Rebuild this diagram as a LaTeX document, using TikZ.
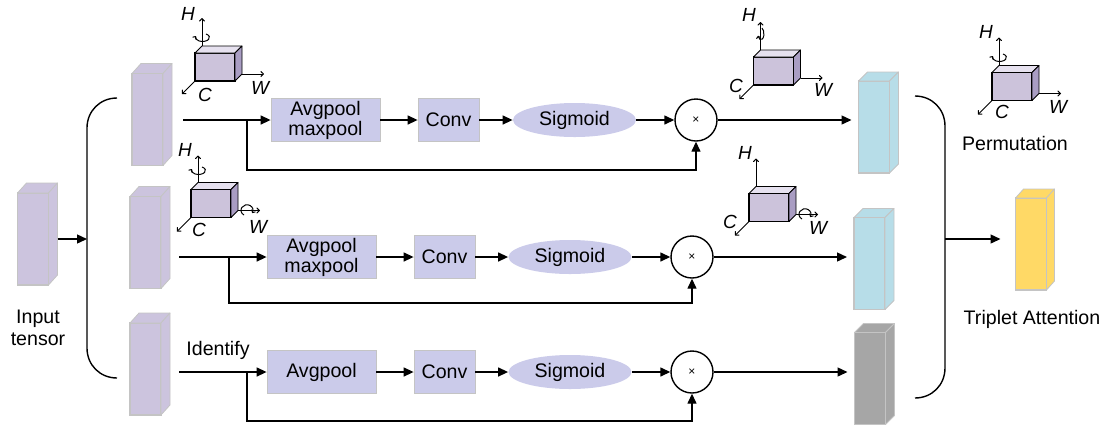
\documentclass[tikz,border=0pt]{standalone}
\usepackage{fontspec}
\setmainfont{Liberation Sans}
\usetikzlibrary{arrows.meta}
\usetikzlibrary{shapes.geometric}
\definecolor{opblue}{HTML}{CBCBEA}
\definecolor{edgegray}{HTML}{C4C4C4}
\definecolor{lavender}{HTML}{CCC4DE}
\definecolor{cubefront}{HTML}{CCC3DB}
\definecolor{cubetop}{HTML}{E6E1EF}
\definecolor{cubeside}{HTML}{A99DC3}
\definecolor{cyanbox}{HTML}{B7DDE8}
\definecolor{graybox}{HTML}{A6A6A6}
\definecolor{yellowbox}{HTML}{FFD966}
\tikzset{flow/.style = {line width = 0.7pt, -{Triangle[length = 5pt, width = 4.5pt]}}}
\tikzset{axis/.style = {line width = 0.5pt, -{To[length = 1.8pt, width = 3pt]}}}
\tikzset{rot/.style = {line width = 0.5pt, -{To[length = 1.5pt, width = 2.5pt]}}}
\tikzset{tensor/.style = {draw = edgegray, line width = 0.6pt, inner sep = 0, outer sep = 0, minimum width = 15.5pt, minimum height = 46pt}}
\tikzset{cube/.style = {draw, line width = 0.7pt, fill = cubefront, inner sep = 0, outer sep = 0, minimum width = 20pt, minimum height = 14pt}}
\tikzset{pool/.style = {draw = edgegray, fill = opblue, minimum width = 54.5pt, minimum height = 21.5pt, inner sep = 0, align = center, font = \fontsize{9.8}{10}\selectfont}}
\tikzset{conv/.style = {pool, minimum width = 30.5pt}}
\tikzset{sig/.style = {ellipse, fill = opblue, minimum width = 61.5pt, minimum height = 17pt, inner sep = 0}}
\tikzset{mult/.style = {circle, draw, line width = 0.7pt, minimum size = 21pt, inner sep = 0, font = \fontsize{6}{6}\selectfont}}
\tikzset{axlab/.style = {inner sep = 0, font = \fontsize{9.5}{10}\selectfont\itshape}}
\tikzset{lab/.style = {inner sep = 0, align = center}}
\newcommand\prism[6]{%
    \filldraw [draw = #6, fill = #4, line join = round] (#1.north west) -- ++(#2, #3) -- ([shift = {(#2, #3)}]#1.north east) -- (#1.north east) -- cycle;
    \filldraw [draw = #6, fill = #5, line join = round] (#1.north east) -- ([shift = {(#2, #3)}]#1.north east) -- ([shift = {(#2, #3)}]#1.south east) -- (#1.south east) -- cycle;
}

\begin{document}
\begin{tikzpicture}[x = 0.5pt, y = -0.5pt, font = \fontsize{9.8}{11}\selectfont]
    \useasboundingbox (0, 0) rectangle (1105, 425);

    \node [tensor, fill = lavender] (in) at (33, 239) {};
    \node [tensor, fill = lavender] (t1) at (147.5, 119.5) {};
    \node [tensor, fill = lavender] (t2) at (145.5, 242.5) {};
    \node [tensor, fill = lavender] (t3) at (145.5, 369) {};
    \node [tensor, fill = cyanbox] (o1) at (874, 127) {};
    \node [tensor, fill = cyanbox] (o2) at (869.5, 263.5) {};
    \node [tensor, fill = graybox] (o3) at (870, 378.5) {};
    \node [tensor, fill = yellowbox] (ta) at (1031, 244) {};
    \prism{in}{9}{-10}{lavender}{lavender}{edgegray}
    \prism{t1}{9}{-10}{lavender}{lavender}{edgegray}
    \prism{t2}{9}{-10}{lavender}{lavender}{edgegray}
    \prism{t3}{9}{-10}{lavender}{lavender}{edgegray}
    \prism{o1}{9}{-9}{cyanbox}{cyanbox}{edgegray}
    \prism{o2}{9}{-9}{cyanbox}{cyanbox}{edgegray}
    \prism{o3}{9}{-9}{graybox}{graybox}{edgegray}
    \prism{ta}{8}{-9}{yellowbox}{yellowbox}{edgegray}

    \node [lab] (inlab) at (38, 328) {Input\\tensor};
    \node [lab] (perm) at (1015, 143) {Permutation};
    \node [lab] (talab) at (1032, 319) {Triplet Attention};
    \node [lab] (ident) at (218, 350) {Identify};

    \node [cube] (k1) at (215, 67) {};
    \node [cube] (k2) at (211, 203.5) {};
    \node [cube] (k3) at (773.5, 71) {};
    \node [cube] (k4) at (769, 207.5) {};
    \node [cube] (k5) at (1012, 86.5) {};
    \prism{k1}{7}{-7}{cubetop}{cubeside}{black}
    \prism{k2}{7}{-7}{cubetop}{cubeside}{black}
    \prism{k3}{7}{-7}{cubetop}{cubeside}{black}
    \prism{k4}{7}{-7}{cubetop}{cubeside}{black}
    \prism{k5}{7}{-7}{cubetop}{cubeside}{black}

    \draw [axis] ([shift = {(7, -7)}]k1.north west) -- ++(0, -28);
    \draw [axis] ([shift = {(7, -7)}]k1.south east) -- ++(22, 0);
    \draw [axis] (k1.south west) -- ++(-13, 13);
    \node [axlab] (k1H) at (188, 14) {H};
    \node [axlab] (k1W) at (260, 88) {W};
    \node [axlab] (k1C) at (205, 95) {C};
    \draw [rot] (206, 34) arc [start angle = -60, end angle = 200, x radius = 7, y radius = 4];

    \draw [axis] ([shift = {(7, -7)}]k2.north west) -- ++(0, -27);
    \draw [axis] ([shift = {(7, -7)}]k2.south east) -- ++(22, 0);
    \draw [axis] (k2.south west) -- ++(-14, 14);
    \node [axlab] (k2H) at (185, 150) {H};
    \node [axlab] (k2W) at (258, 227) {W};
    \node [axlab] (k2C) at (199, 230) {C};
    \draw [rot] (202, 167) arc [start angle = -60, end angle = 200, x radius = 7, y radius = 4];
    \draw [rot] (244, 215) arc [start angle = 120, end angle = 390, x radius = 6, y radius = 5.5];

    \draw [axis] ([shift = {(7, -7)}]k3.north west) -- ++(0, -28);
    \draw [axis] ([shift = {(7, -7)}]k3.south east) -- ++(22, 0);
    \draw [axis] (k3.south west) -- ++(-14, 14);
    \node [axlab] (k3H) at (749, 15) {H};
    \node [axlab] (k3W) at (823, 90) {W};
    \node [axlab] (k3C) at (736, 86) {C};
    \draw [rot] (762, 28) arc [start angle = -70, end angle = 160, x radius = 3, y radius = 6];

    \draw [axis] ([shift = {(7, -7)}]k4.north west) -- ++(0, -28);
    \draw [axis] ([shift = {(7, -7)}]k4.south east) -- ++(22, 0);
    \draw [axis] (k4.south west) -- ++(-14, 14);
    \node [axlab] (k4H) at (745, 153) {H};
    \node [axlab] (k4W) at (818, 228) {W};
    \node [axlab] (k4C) at (730, 222) {C};
    \draw [rot] (802, 219) arc [start angle = 120, end angle = 390, x radius = 6, y radius = 5.5];

    \draw [axis] ([shift = {(7, -7)}]k5.north west) -- ++(0, -28);
    \draw [axis] ([shift = {(7, -7)}]k5.south east) -- ++(22, 0);
    \draw [axis] (k5.south west) -- ++(-14, 14);
    \node [axlab] (k5H) at (986, 32) {H};
    \node [axlab] (k5W) at (1058, 107) {W};
    \node [axlab] (k5C) at (1002, 112) {C};
    \draw [rot] (1003, 54) arc [start angle = -60, end angle = 200, x radius = 7, y radius = 4];

    \node [pool] (p1) at (325.5, 120) {Avgpool\\maxpool};
    \node [conv] (v1) at (448.5, 120) {Conv};
    \node [sig] (s1) at (574.5, 120) {Sigmoid};
    \node [mult] (m1) at (696, 120) {×};
    \node [pool] (p2) at (321.5, 257) {Avgpool\\maxpool};
    \node [conv] (v2) at (444.5, 257) {Conv};
    \node [sig] (s2) at (570, 257) {Sigmoid};
    \node [mult] (m2) at (692, 257) {×};
    \node [pool] (p3) at (321.5, 372) {Avgpool};
    \node [conv] (v3) at (444.5, 372) {Conv};
    \node [sig] (s3) at (570, 372) {Sigmoid};
    \node [mult] (m3) at (692, 372) {×};

    \coordinate (a1) at (183, 120);
    \coordinate (b1) at (247, 120);
    \coordinate (f1) at (247, 170);
    \coordinate (a2) at (179, 257);
    \coordinate (b2) at (229, 257);
    \coordinate (f2) at (229, 303);
    \coordinate (a3) at (179, 372);
    \coordinate (b3) at (247, 372);
    \coordinate (f3) at (247, 421);

    \draw [flow] (a1) -- (p1);
    \draw [flow] (p1) -- (v1);
    \draw [flow] (v1) -- (s1);
    \draw [flow] (s1) -- (m1);
    \draw [flow] (b1) -- (f1) -| (m1);
    \draw [flow, shorten >= 3.5pt] (m1) -- (m1 -| o1.west);

    \draw [flow] (a2) -- (p2);
    \draw [flow] (p2) -- (v2);
    \draw [flow] (v2) -- (s2);
    \draw [flow] (s2) -- (m2);
    \draw [flow] (b2) -- (f2) -| (m2);
    \draw [flow, shorten >= 3.5pt] (m2) -- (m2 -| o2.west);

    \draw [flow] (a3) -- (p3);
    \draw [flow] (p3) -- (v3);
    \draw [flow] (v3) -- (s3);
    \draw [flow] (s3) -- (m3);
    \draw [flow] (b3) -- (f3) -| (m3);
    \draw [flow, shorten >= 3.5pt] (m3) -- (m3 -| o3.west);

    \draw [line width = 0.7pt] (117, 98) .. controls (100, 98) and (87, 111) .. (87, 128) -- (87, 348) .. controls (87, 365) and (100, 378) .. (117, 378);
    \coordinate (bl) at (87, 239);
    \draw [flow] ([xshift = 4.5pt]in.east) -- (bl);

    \draw [line width = 0.7pt] (915, 96) .. controls (932, 96) and (945, 109) .. (945, 126) -- (945, 368) .. controls (945, 385) and (932, 398) .. (915, 398);
    \coordinate (br) at (945, 239);
    \draw [flow, shorten >= 7.5pt] (br) -- (br -| ta.west);
\end{tikzpicture}
\end{document}
